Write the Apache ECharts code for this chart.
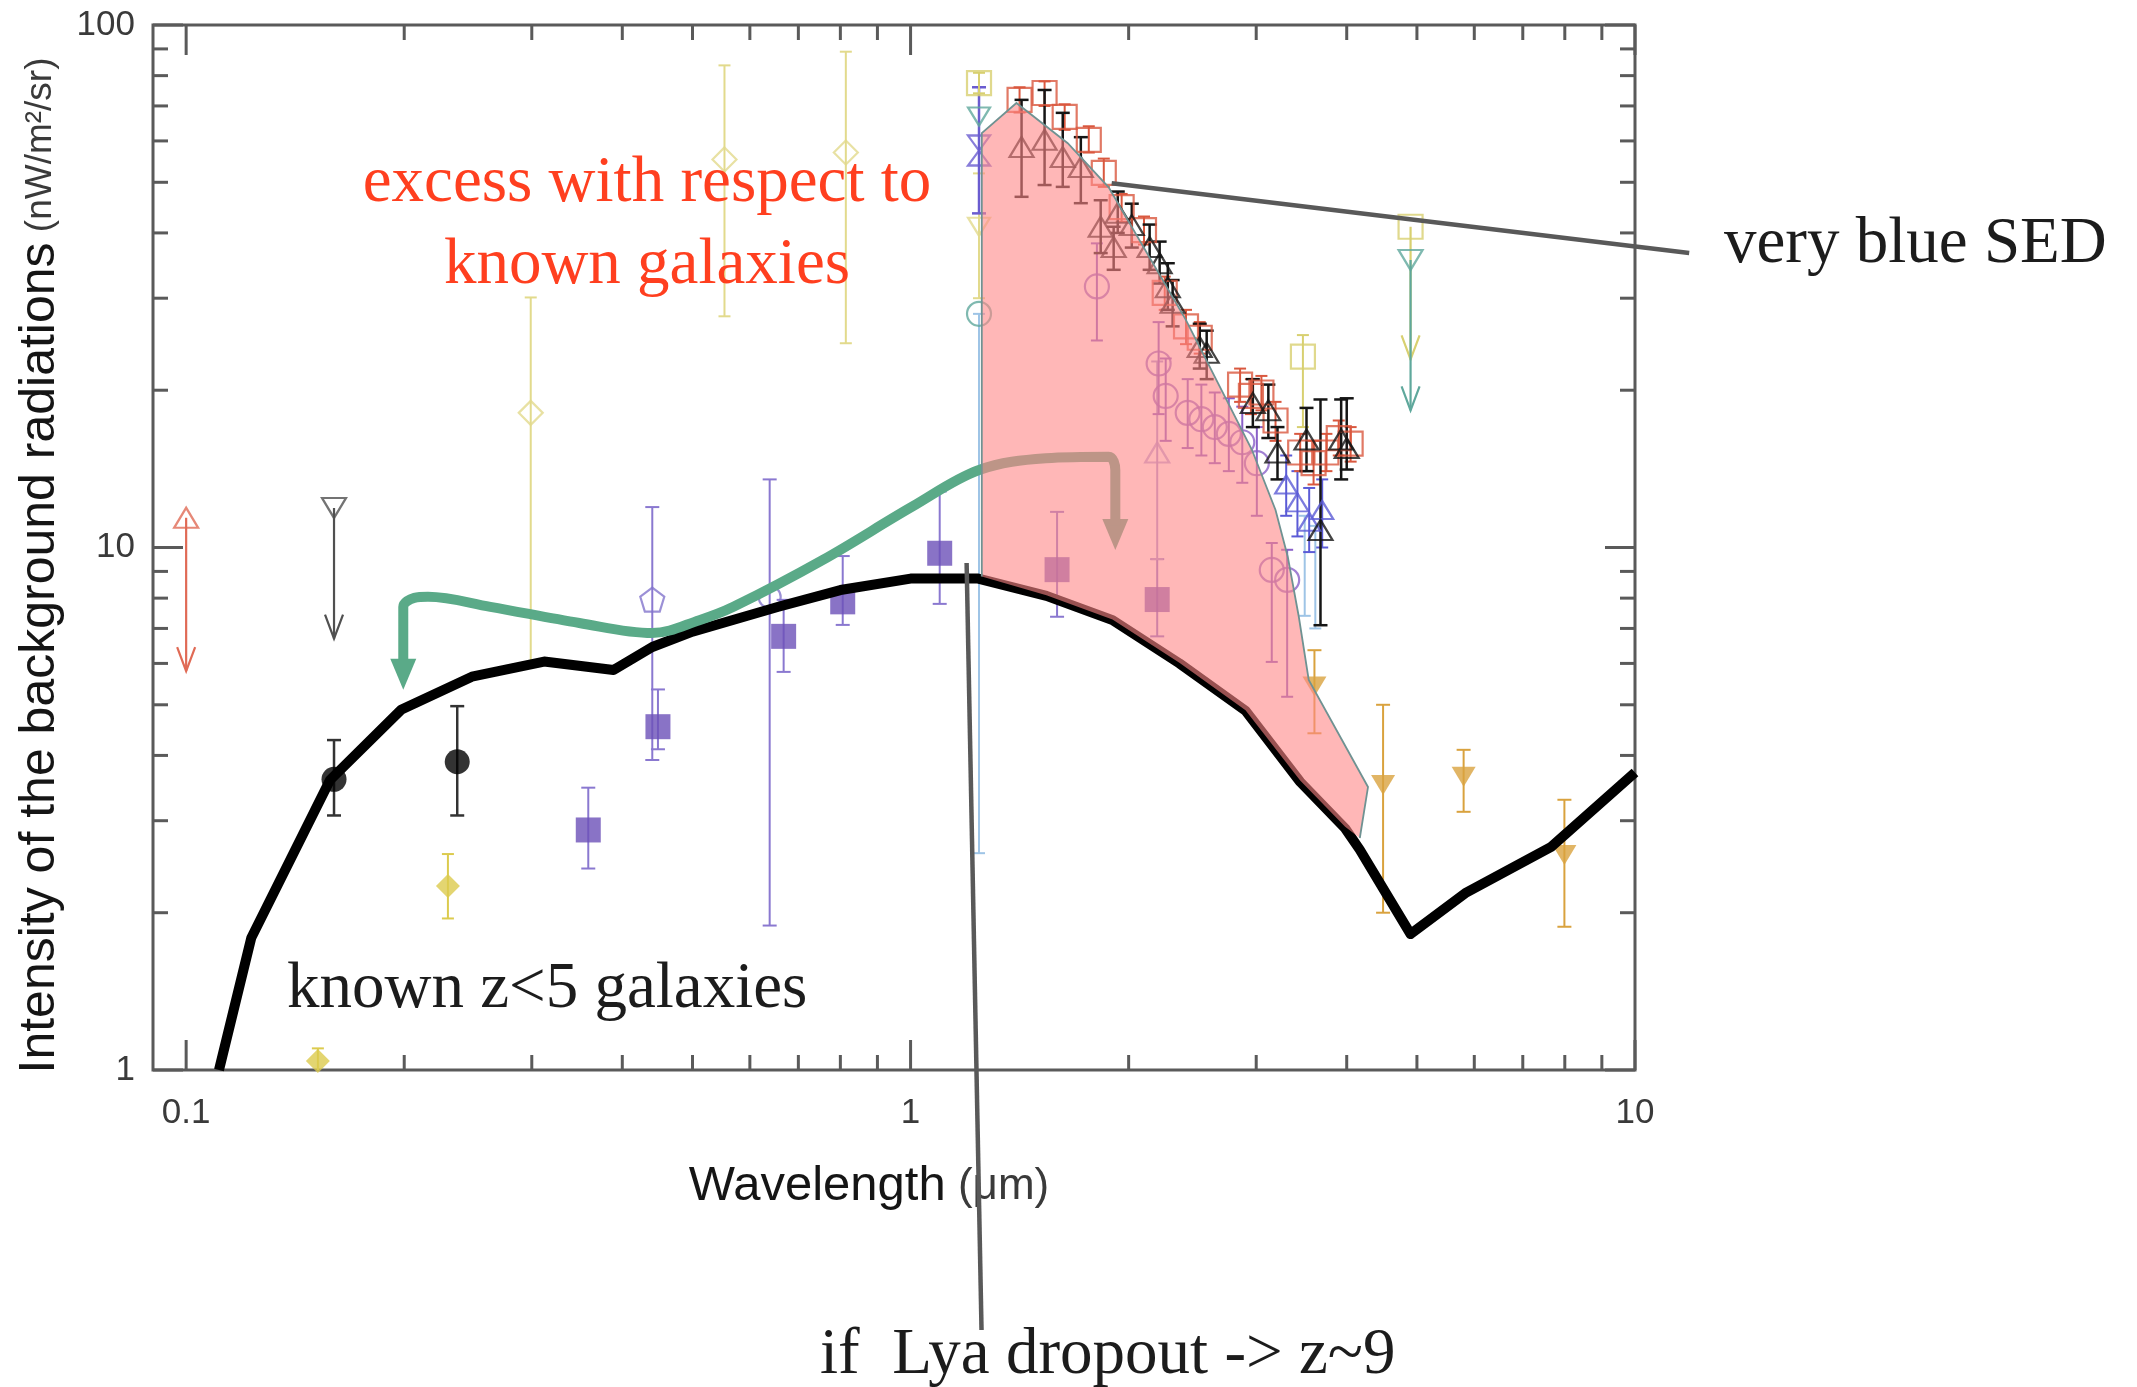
<!DOCTYPE html>
<html>
<head>
<meta charset="utf-8">
<script src="https://cdn.jsdelivr.net/npm/echarts@6/dist/echarts.min.js"></script>
<style>
  html, body { margin: 0; padding: 0; background: #ffffff; }
  #chart { width: 2137px; height: 1387px; }
</style>
</head>
<body>
<div id="chart"></div>
<script>
// ---------- tick values (log axes) ----------
const xMajorTicks = [0.1, 1, 10];
const xMinorTicks = [0.2, 0.3, 0.4, 0.5, 0.6, 0.7, 0.8, 0.9, 2, 3, 4, 5, 6, 7, 8, 9];
const yMajorTicks = [1, 10, 100];
const yMinorTicks = [2, 3, 4, 5, 6, 7, 8, 9, 20, 30, 40, 50, 60, 70, 80, 90];

// ---------- integrated light of known z<5 galaxies ----------
const modelLambda    = [0.111, 0.123, 0.158, 0.198, 0.248, 0.312, 0.389, 0.44, 0.50, 0.657, 0.80, 1.0, 1.24, 1.54, 1.9, 2.35, 2.9, 3.45, 3.98, 4.17, 4.9, 5.83, 7.65, 10];
const modelIntensity = [1.0, 1.79, 3.59, 4.89, 5.66, 6.05, 5.83, 6.45, 6.9, 7.7, 8.29, 8.72, 8.72, 8.08, 7.26, 6.0, 4.87, 3.56, 2.9, 2.64, 1.82, 2.18, 2.67, 3.71];

// ---------- excess region (outline: upper envelope, then back along the model) ----------
const excessLambda    = [1.254, 1.254, 1.40, 1.648, 1.877, 2.398, 2.958, 3.19, 3.317, 3.435, 3.545, 4.28, 4.17, 3.98, 3.45, 2.9, 2.35, 1.9, 1.54, 1.254];
const excessIntensity = [8.8, 62.1, 70.9, 59.4, 48.9, 27.3, 15.4, 11.8, 9.59, 7.37, 5.58, 3.48, 2.78, 2.92, 3.58, 4.88, 6.02, 7.28, 8.1, 8.8];
const excessUpperCount = 13;

// ---------- green bracket (shift of the galaxy light) ----------
const bracketLambda = [0.1994, 0.1994, 0.2065, 0.2157, 0.263, 0.349, 0.4397, 0.511, 0.5695, 0.7557, 1.005, 1.243, 1.537, 1.877, 1.917, 1.917];
const bracketLevel  = [6.1, 7.69, 8.01, 8.05, 7.70, 7.17, 6.86, 7.26, 7.70, 9.46, 11.97, 14.07, 14.82, 14.92, 14.07, 11.0];
const bracketTips   = [[0.1994, 5.34], [1.917, 9.89]];

// ---------- pointer lines of the annotations ----------
const sedPointerLambda = [1.895, 11.88];
const sedPointerLevel  = [49.8, 36.6];
const lyaPointerLambda = [1.195, 1.253];
const lyaPointerLevel  = [9.34, 0.318];

// ---------- measurements: [λ (μm), νIν, low, high] ----------
const blackDots     = [[0.16, 3.60, 3.07, 4.28], [0.2367, 3.89, 3.07, 4.97]];
const goldDiamonds  = [[0.152, 1.04, 0.96, 1.10], [0.2298, 2.25, 1.95, 2.59]];
const paleDiamonds  = [[0.299, 18.1, 6.0, 30.1], [0.5535, 55.3, 27.7, 83.7], [0.814, 57.0, 24.6, 88.9]];
const violetSquares = [[0.359, 2.88, 2.43, 3.47], [0.448, 4.54, 4.11, 5.35], [0.668, 6.76, 5.78, 7.94], [0.806, 7.87, 7.11, 9.63], [1.097, 9.75, 7.80, 12.8], [1.593, 9.07, 7.37, 11.7], [2.19, 7.95, 6.76, 9.5]];
const violetPentagon = [[0.44, 7.95, 3.92, 11.95]];
const violetRing    = [[0.639, 8.04, 1.89, 13.5]];
const amberTriangles = [[3.61, 5.42, 4.41, 6.36], [4.49, 3.51, 2.0, 5.0], [5.80, 3.64, 3.12, 4.10], [7.99, 2.58, 1.88, 3.29]];

// J-band column
const jYellowSquare = [[1.243, 77.4, 74, 81]];
const jTealDown     = [[1.243, 66.8]];
const jHourglass    = [[1.243, 57.5, 43.6, 76]];
const jPaleDown     = [[1.243, 41.1, 30, 52]];
const jTealRing     = [[1.243, 28.0, 2.6, 28.0]];

// near-IR cluster
const blackTriangles = [[1.423, 58.4, 46.9, 71.9], [1.531, 60.3, 49.4, 75.1], [1.622, 55.9, 49.0, 67.9], [1.718, 53.5, 45.6, 61.0], [1.83, 41.1, 36.6, 46.2], [1.907, 37.6, 34.0, 41.1], [1.932, 43.7, 40, 48], [2.02, 41.4, 37.5, 45.5], [2.138, 37.6, 34, 41.5], [2.207, 35.0, 32, 38.5], [2.265, 31.5, 28.5, 35], [2.30, 29.4, 26.5, 32.5], [2.507, 24.2, 22, 26.8], [2.563, 23.6, 21, 26], [2.968, 18.9, 17, 21], [3.118, 18.3, 16.2, 20.5], [3.21, 15.2, 13.5, 17], [3.52, 16.1, 14, 18.5], [3.68, 10.8, 7.1, 19.2], [3.93, 16.1, 13.5, 19.2], [4.0, 15.5, 14.1, 19.3]];
const redSquares = [[1.414, 71.9, 68, 76], [1.531, 74.1, 70, 78], [1.632, 66.7, 63, 70.5], [1.762, 60.3, 57, 64], [1.848, 52.1, 49, 55.5], [1.956, 44.8, 42, 47.5], [2.10, 40.5, 38, 43], [2.243, 30.7, 28.5, 33], [2.40, 26.5, 24.5, 28.5], [2.507, 25.2, 23.5, 27], [2.85, 20.5, 19, 22], [2.95, 19.5, 18, 21], [3.05, 19.8, 18.3, 21.3], [3.19, 17.5, 16, 19], [3.45, 15.2, 14, 16.5], [3.6, 14.5, 13.2, 16], [3.75, 15.2, 14, 16.5], [3.9, 16.2, 15, 17.5], [4.05, 15.8, 14.6, 17]];
const mauveRings = [[1.808, 31.6, 24.9, 38.2], [2.2, 22.5, 18, 27], [2.25, 19.5, 16, 23], [2.413, 18.1, 15.5, 21], [2.52, 17.6, 15, 20.5], [2.63, 17.0, 14.5, 19.8], [2.75, 16.5, 14, 19.3], [2.87, 15.9, 13.3, 18.6], [3.006, 14.5, 11.5, 17], [3.152, 9.06, 6.04, 10.2], [3.31, 8.67, 5.18, 9.9]];
const lilacTriangle = [[2.19, 15.2, 9.5, 22.7]];
const blueTriangles = [[3.3, 13.2, 11.5, 15], [3.42, 12.2, 10.5, 14], [3.55, 11.2, 9.8, 13], [3.7, 11.8, 10, 13.5]];
const skyBars       = [[3.5, 9.5, 7.4, 11.5], [3.62, 9.0, 7.0, 11.0]];
const yellowSquareL = [[3.48, 23.2, 17.0, 25.5]];

// limits: [λ, νIν, arrow end]
const redLimit          = [[0.1, 11.4, 5.8]];
const greyLimit         = [[0.16, 11.9, 6.69]];
const yellowLimitSquare = [[4.9, 41.1, 22.9]];
const tealLimitTriangle = [[4.9, 35.5, 18.3]];

// ---------- helpers ----------
const SANS = '"Liberation Sans", Arial, sans-serif';
const SERIF = '"Liberation Serif", "Times New Roman", serif';

function decadeLabel(v) {
  const l = Math.log10(v);
  return Math.abs(l - Math.round(l)) < 1e-6 ? String(+v.toPrecision(3)) : '';
}

function marks(points, symbol, size, color, filled, rotate, z) {
  return {
    type: 'scatter', silent: true, z: z || 2,
    data: points.map(p => [p[0], p[1]]),
    symbol: symbol, symbolSize: size, symbolRotate: rotate || 0,
    itemStyle: filled ? { color: color } : { color: 'rgba(255,255,255,0)', borderColor: color, borderWidth: 2.2 },
    emphasis: { disabled: true }
  };
}

function errorBars(points, color, width, cap) {
  return {
    type: 'custom', silent: true, clip: true, z: 2,
    data: points,
    renderItem: function (params, api) {
      const x = api.value(0);
      const a = api.coord([x, api.value(2)]);
      const b = api.coord([x, api.value(3)]);
      const st = { stroke: color, lineWidth: width };
      return {
        type: 'group', children: [
          { type: 'line', shape: { x1: a[0], y1: a[1], x2: b[0], y2: b[1] }, style: st },
          { type: 'line', shape: { x1: a[0] - cap, y1: a[1], x2: a[0] + cap, y2: a[1] }, style: st },
          { type: 'line', shape: { x1: b[0] - cap, y1: b[1], x2: b[0] + cap, y2: b[1] }, style: st }
        ]
      };
    }
  };
}

function limitArrows(points, color, width) {
  return {
    type: 'custom', silent: true, clip: true, z: 2,
    data: points,
    renderItem: function (params, api) {
      const x = api.value(0);
      const a = api.coord([x, api.value(1)]);
      const b = api.coord([x, api.value(2)]);
      const hw = 9, hh = 24;
      return {
        type: 'group', children: [
          { type: 'line', shape: { x1: a[0], y1: a[1], x2: b[0], y2: b[1] }, style: { stroke: color, lineWidth: width } },
          { type: 'polyline', shape: { points: [[b[0] - hw, b[1] - hh], [b[0], b[1]], [b[0] + hw, b[1] - hh]] },
            style: { stroke: color, lineWidth: width, fill: null } }
        ]
      };
    }
  };
}

// straight pointer drawn through the axes' scales, allowed to run outside the frame
function pointer(lambdas, levels) {
  return {
    type: 'custom', silent: true, clip: false, z: 6,
    data: lambdas.map((x, i) => [x, levels[i]]),
    renderItem: function (params, api) {
      if (params.dataIndex !== 0) return null;
      const a = api.coord([lambdas[0], levels[0]]);
      const b = api.coord([lambdas[1], levels[1]]);
      return { type: 'line', shape: { x1: a[0], y1: a[1], x2: b[0], y2: b[1] }, style: { stroke: '#595959', lineWidth: 4.5 } };
    }
  };
}

function axisTicks(values, major, horizontal) {
  return {
    type: 'custom', silent: true, clip: false, z: 8,
    data: values.map(v => horizontal ? [v, 1] : [1, v]),
    renderItem: function (params, api) {
      const cs = params.coordSys;
      const len = major ? 30 : 15;
      const st = { stroke: '#5a5a5a', lineWidth: 3 };
      if (horizontal) {
        const p = api.coord([api.value(0), 1]);
        return { type: 'group', children: [
          { type: 'line', shape: { x1: p[0], y1: cs.y + cs.height, x2: p[0], y2: cs.y + cs.height - len }, style: st },
          { type: 'line', shape: { x1: p[0], y1: cs.y, x2: p[0], y2: cs.y + len }, style: st }
        ] };
      }
      const q = api.coord([1, api.value(1)]);
      return { type: 'group', children: [
        { type: 'line', shape: { x1: cs.x, y1: q[1], x2: cs.x + len, y2: q[1] }, style: st },
        { type: 'line', shape: { x1: cs.x + cs.width, y1: q[1], x2: cs.x + cs.width - len, y2: q[1] }, style: st }
      ] };
    }
  };
}

const pentagon = 'path://M0,-10L9.5,-3.1L5.9,8.1L-5.9,8.1L-9.5,-3.1Z';
const hourglass = 'path://M-10,-12L10,-12L0,0ZM0,0L10,12L-10,12Z';

// ---------- colours ----------
const C = {
  red: '#e06a55', grey: '#505050', gold: '#dccb4e', pale: '#e2da8c', violet: '#6b50b8', violetBar: '#8a78d0',
  violetLight: '#8274cc', amber: '#d9a23e', yellow: '#d8d070', teal: '#5fa89c', blue: '#6a5cd0',
  sky: '#9ec4e6', black: '#151515', brick: '#d9583f', mauve: '#8a60c8', lilac: '#a89ad8', blueTri: '#5b5bd6',
  green: '#5aaa88'
};

const series = [];

// measurements with error bars
series.push(errorBars(paleDiamonds, C.pale, 2, 6), marks(paleDiamonds, 'diamond', 24, C.pale, false));
series.push(errorBars(goldDiamonds, C.gold, 2, 6), marks(goldDiamonds, 'diamond', 24, C.gold, true));
series.push(errorBars(blackDots, '#333', 2.5, 7), marks(blackDots, 'circle', 25, '#000', true));
series.push(errorBars(violetRing, C.violetBar, 2, 7), marks(violetRing, 'circle', 22, C.violetLight, false));
series.push(errorBars(violetPentagon, C.violetBar, 2, 7), marks(violetPentagon, pentagon, 24, C.violetLight, false));
series.push(errorBars(violetSquares, C.violetBar, 2, 7), marks(violetSquares, 'rect', 25, C.violet, true));
series.push(errorBars(amberTriangles, C.amber, 2, 7), marks(amberTriangles, 'triangle', [24, 20], C.amber, true, 180));

// J-band column
series.push(errorBars(jTealRing, C.sky, 2, 6), marks(jTealRing, 'circle', 24, C.teal, false));
series.push(errorBars(jPaleDown, C.pale, 2, 6), marks(jPaleDown, 'triangle', [22, 18], C.pale, false, 180));
series.push(errorBars(jHourglass, C.blue, 2.5, 7), marks(jHourglass, hourglass, [22, 30], C.blue, false));
series.push(marks(jTealDown, 'triangle', [22, 18], C.teal, false, 180));
series.push(errorBars(jYellowSquare, C.yellow, 2, 6), marks(jYellowSquare, 'rect', 24, C.yellow, false));

// near-IR cluster
series.push(errorBars(yellowSquareL, C.yellow, 2, 6), marks(yellowSquareL, 'rect', 24, C.yellow, false));
series.push(errorBars(lilacTriangle, C.lilac, 2, 6), marks(lilacTriangle, 'triangle', [24, 20], C.lilac, false));
series.push(errorBars(mauveRings, C.mauve, 2, 6), marks(mauveRings, 'circle', 24, C.mauve, false));
series.push(errorBars(skyBars, C.sky, 2, 6));
series.push(errorBars(blueTriangles, C.blueTri, 2, 6), marks(blueTriangles, 'triangle', [22, 18], C.blueTri, false));
series.push(errorBars(redSquares, C.brick, 2, 6), marks(redSquares, 'rect', 24, C.brick, false));
series.push(errorBars(blackTriangles, C.black, 2.5, 7), marks(blackTriangles, 'triangle', [24, 20], C.black, false));

// upper / lower limits
series.push(limitArrows(redLimit, C.red, 2.2), marks(redLimit, 'triangle', [24, 20], C.red, false));
series.push(limitArrows(greyLimit, C.grey, 2.2), marks(greyLimit, 'triangle', [24, 20], C.grey, false, 180));
series.push(limitArrows(yellowLimitSquare, C.yellow, 2.2), marks(yellowLimitSquare, 'rect', 24, C.yellow, false));
series.push(limitArrows(tealLimitTriangle, C.teal, 2.2), marks(tealLimitTriangle, 'triangle', [24, 20], C.teal, false, 180));

// galaxy model
series.push({
  type: 'line', silent: true, z: 3, clip: true, symbol: 'none',
  data: modelLambda.map((x, i) => [x, modelIntensity[i]]),
  lineStyle: { color: '#000000', width: 10, join: 'round' }
});

// green bracket with arrow heads
series.push({
  type: 'line', silent: true, z: 4, clip: true, symbol: 'none', smooth: 0.35,
  data: bracketLambda.map((x, i) => [x, bracketLevel[i]]),
  lineStyle: { color: C.green, width: 10, cap: 'butt' }
});
series.push({
  type: 'custom', silent: true, z: 4, clip: true,
  data: bracketTips,
  renderItem: function (params, api) {
    const p = api.coord([api.value(0), api.value(1)]);
    return { type: 'polygon', shape: { points: [[p[0] - 13, p[1] - 31], [p[0] + 13, p[1] - 31], [p[0], p[1]]] },
      style: { fill: C.green } };
  }
});

// excess region, translucent over everything below
series.push({
  type: 'custom', silent: true, z: 5, clip: true,
  data: excessLambda.map((x, i) => [x, excessIntensity[i]]),
  renderItem: function (params, api) {
    if (params.dataIndex !== 0) return null;
    const pts = excessLambda.map((x, i) => api.coord([x, excessIntensity[i]]));
    return { type: 'group', children: [
      { type: 'polygon', shape: { points: pts }, style: { fill: 'rgba(255,135,135,0.6)' } },
      { type: 'polyline', shape: { points: pts.slice(0, excessUpperCount) }, style: { stroke: '#6f9292', lineWidth: 1.8, fill: null } }
    ] };
  }
});

// annotation pointers
series.push(pointer(sedPointerLambda, sedPointerLevel));
series.push(pointer(lyaPointerLambda, lyaPointerLevel));

// frame ticks
series.push(axisTicks(xMajorTicks, true, true), axisTicks(xMinorTicks, false, true));
series.push(axisTicks(yMajorTicks, true, false), axisTicks(yMinorTicks, false, false));

const option = {
  animation: false,
  backgroundColor: '#ffffff',
  grid: { left: 153, right: 502, top: 25, bottom: 317, show: true, borderColor: '#5a5a5a', borderWidth: 3, backgroundColor: 'rgba(0,0,0,0)' },
  xAxis: {
    type: 'log', logBase: 10, min: 0.09, max: 10,
    axisLine: { show: false }, axisTick: { show: false }, splitLine: { show: false }, minorTick: { show: false },
    axisLabel: { formatter: decadeLabel, fontSize: 35, color: '#3a3a3a', fontFamily: SANS, margin: 26 },
    name: '{a|Wavelength}{b| (μm)}', nameLocation: 'middle', nameGap: 92,
    nameTextStyle: { padding: [0, 50, 0, 0], rich: {
      a: { fontSize: 49, color: '#151515', fontFamily: SANS },
      b: { fontSize: 44, color: '#3a3a3a', fontFamily: SANS }
    } }
  },
  yAxis: {
    type: 'log', logBase: 10, min: 1, max: 100,
    axisLine: { show: false }, axisTick: { show: false }, splitLine: { show: false }, minorTick: { show: false },
    axisLabel: { formatter: decadeLabel, fontSize: 35, color: '#3a3a3a', fontFamily: SANS, margin: 18 },
    name: '{a|Intensity of the background radiations}{b| (nW/m²/sr)}', nameLocation: 'middle', nameGap: 78, nameRotate: 90,
    nameTextStyle: { padding: [0, 36, 0, 0], rich: {
      a: { fontSize: 50, color: '#151515', fontFamily: SANS },
      b: { fontSize: 37, color: '#3a3a3a', fontFamily: SANS }
    } }
  },
  graphic: [
    { type: 'text', z: 20, silent: true, style: { text: 'excess with respect to', x: 647, y: 184, font: '65px ' + SERIF, fill: '#ff3f1f', align: 'center', verticalAlign: 'middle', textAlign: 'center', textVerticalAlign: 'middle' } },
    { type: 'text', z: 20, silent: true, style: { text: 'known galaxies', x: 647, y: 266, font: '65px ' + SERIF, fill: '#ff3f1f', align: 'center', verticalAlign: 'middle', textAlign: 'center', textVerticalAlign: 'middle' } },
    { type: 'text', z: 20, silent: true, style: { text: 'very blue SED', x: 1724, y: 245, font: '65px ' + SERIF, fill: '#1c1c1c', align: 'left', verticalAlign: 'middle', textAlign: 'left', textVerticalAlign: 'middle' } },
    { type: 'text', z: 20, silent: true, style: { text: 'known z<5 galaxies', x: 287, y: 990, font: '65px ' + SERIF, fill: '#1c1c1c', align: 'left', verticalAlign: 'middle', textAlign: 'left', textVerticalAlign: 'middle' } },
    { type: 'text', z: 20, silent: true, style: { text: 'if  Lya dropout -> z~9', x: 820, y: 1356, font: '65px ' + SERIF, fill: '#1c1c1c', align: 'left', verticalAlign: 'middle', textAlign: 'left', textVerticalAlign: 'middle' } }
  ],
  series: series
};

const chart = echarts.init(document.getElementById('chart'), null, { renderer: 'canvas' });
chart.setOption(option);
</script>
</body>
</html>
